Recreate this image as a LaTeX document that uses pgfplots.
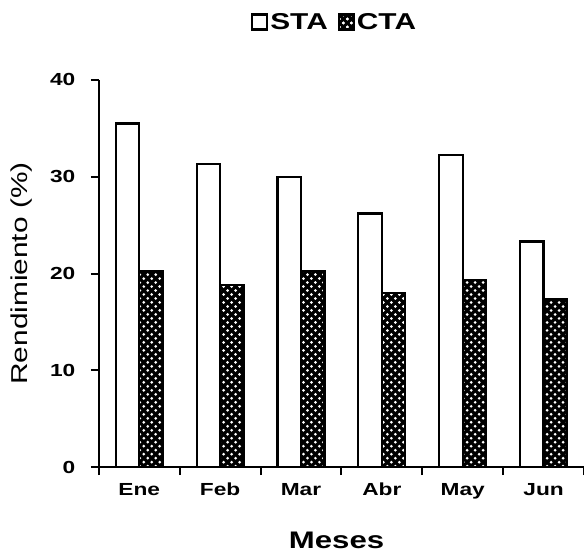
\documentclass[border=0pt]{standalone}
\usepackage{pgfplots}
\pgfplotsset{compat=1.18}
\usetikzlibrary{patterns.meta}
\usepackage{fontspec}
\setmainfont{Liberation Sans}[FakeStretch=1.3]

\tikzset{ctafill/.style={fill=black,
  postaction={pattern={Dots[distance=8bp,radius=1.5bp]}, pattern color=white},
  postaction={pattern={Dots[distance=8bp,radius=1.5bp,xshift=4bp,yshift=4bp]}, pattern color=white}}}

\begin{document}
\begin{tikzpicture}
\begin{axis}[
  name=ax,
  scale only axis,
  width=486bp, height=388bp,
  xmin=-0.5, xmax=5.5,
  ymin=0, ymax=40,
  axis x line=bottom, axis y line=left,
  axis line style={-, line width=2.4bp, black},
  x axis line style={-, line width=2.4bp, black},
  y axis line style={-, line width=2.4bp, black},
  ytick={0,10,20,30,40},
  xtick={0,...,5},
  xticklabels={Ene,Feb,Mar,Abr,May,Jun},
  minor xtick={-0.5,0.5,...,5.5},
  tick align=outside,
  major tick length=8bp,
  minor tick length=8bp,
  every tick/.append style={line width=2bp, black},
  every minor tick/.append style={line width=2bp, black},
  major x tick style={draw=none},
  /pgf/number format/assume math mode=true,
  tick label style={font=\fontsize{17.5bp}{20bp}\selectfont\bfseries},
  yticklabel style={xshift=-12bp},
  xticklabel style={yshift=-4bp, text height=13bp, text depth=1bp},
  ybar=0pt,
  bar width=0.29,
  ylabel={Rendimiento (\%)},
  ylabel style={font=\fontsize{23bp}{27bp}\selectfont, at={(axis description cs:0,0.5)}, anchor=center, yshift=77bp},
  xlabel={Meses},
  xlabel style={font=\fontsize{24bp}{28bp}\selectfont\bfseries, at={(axis description cs:0.49,0)}, anchor=center, yshift=-73bp},
  legend style={at={(0.486,1)}, anchor=center, yshift=58bp, draw=none, fill=none,
    legend columns=-1, font=\fontsize{23bp}{26bp}\selectfont\bfseries,
    /tikz/every even column/.append style={column sep=8bp},
    inner sep=0pt, outer sep=0pt},
  legend cell align=left,
]
\addplot[draw=black, line width=2.2bp, fill=white,
  legend image code/.code={\draw[line width=2.2bp, fill=white] (0bp,-7.5bp) rectangle (15bp,7.5bp);}]
  coordinates {(0,35.5) (1,31.3) (2,30.0) (3,26.2) (4,32.2) (5,23.3)};
\addlegendentry{STA}
\addplot[draw=black, line width=2.2bp, ctafill,
  legend image code/.code={\draw[line width=2.2bp, ctafill] (0bp,-7.5bp) rectangle (15bp,7.5bp);}]
  coordinates {(0,20.2) (1,18.8) (2,20.3) (3,18.0) (4,19.3) (5,17.4)};
\addlegendentry{CTA}
\end{axis}
\pgfresetboundingbox
\path[use as bounding box] ([xshift=-99bp,yshift=-91bp]ax.south west) rectangle ([xshift=0bp,yshift=80bp]ax.north east);
\end{tikzpicture}
\end{document}
